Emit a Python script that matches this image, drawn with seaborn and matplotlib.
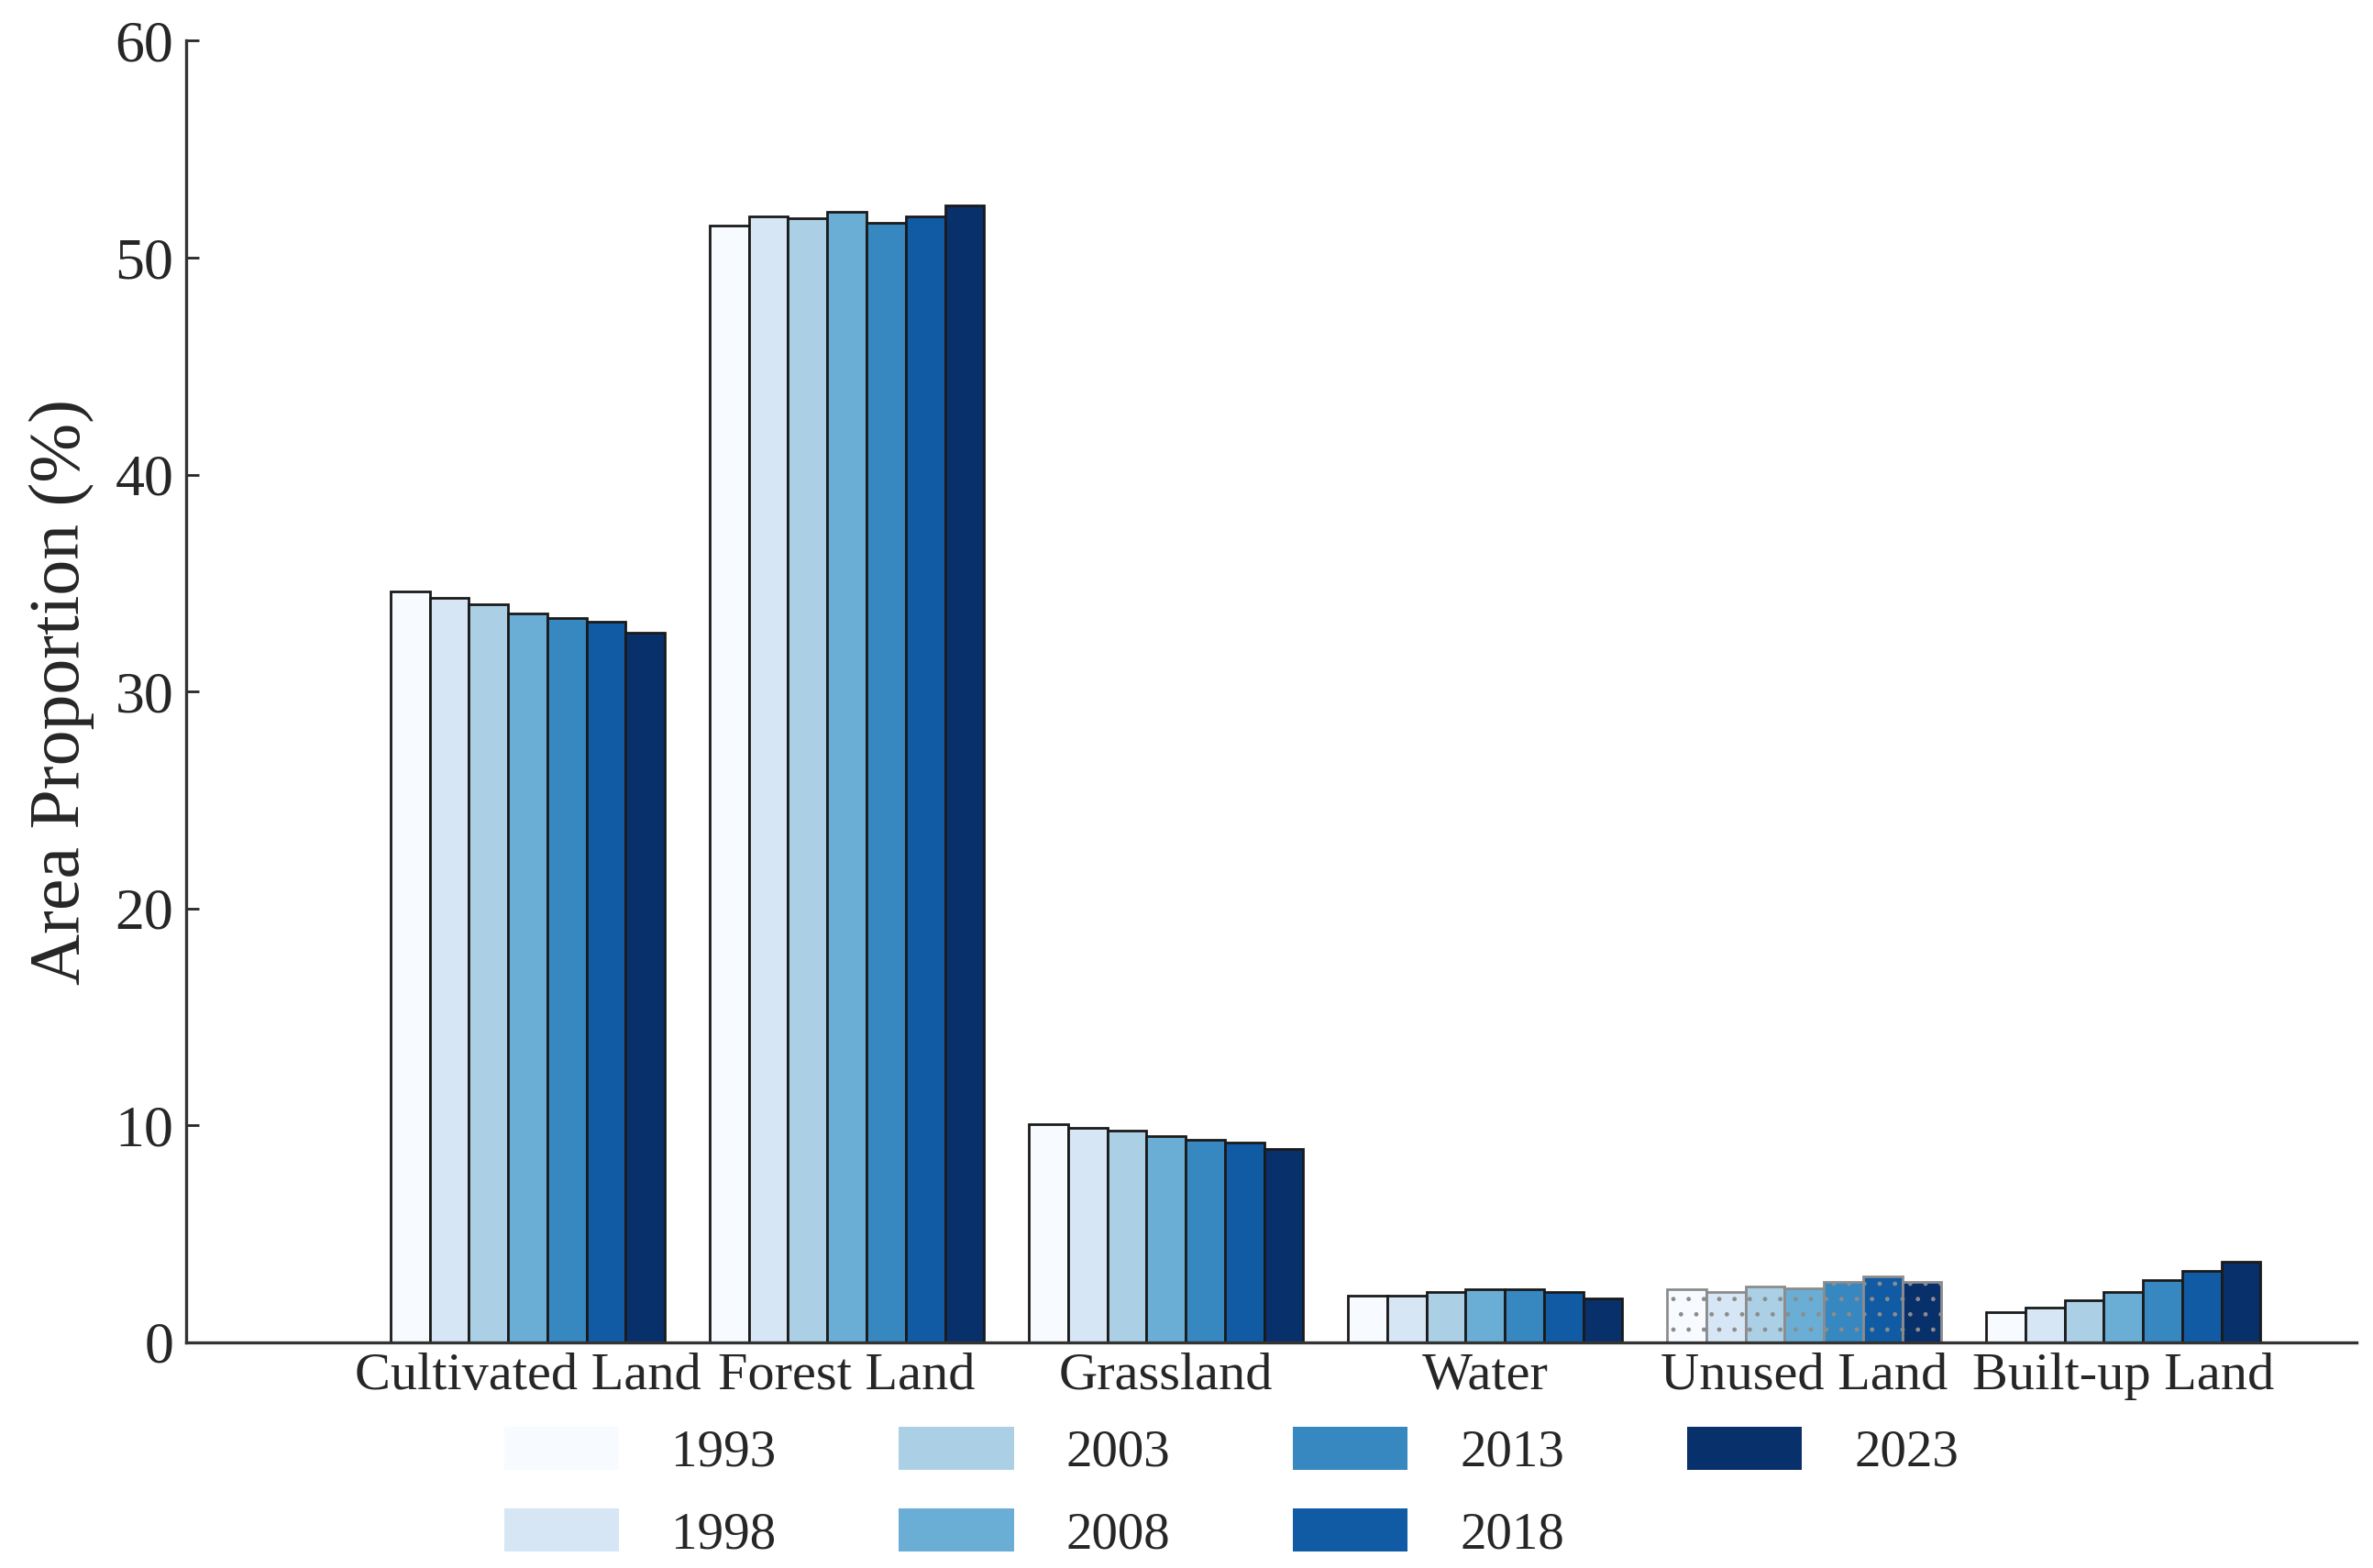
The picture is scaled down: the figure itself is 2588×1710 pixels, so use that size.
import numpy as np
import pandas as pd
import matplotlib
matplotlib.use("Agg")
import matplotlib.pyplot as plt
from matplotlib.patches import Patch
import seaborn as sns

# land use types and area share (%) for each year
types = ["Cultivated Land", "Forest Land", "Grassland", "Water", "Unused Land", "Built-up Land"]
years = ["1993", "1998", "2003", "2008", "2013", "2018", "2023"]
cultivated = [34.6, 34.3, 34.0, 33.6, 33.4, 33.2, 32.7]
forest = [51.5, 51.9, 51.8, 52.1, 51.6, 51.9, 52.4]
grassland = [10.05, 9.9, 9.75, 9.5, 9.35, 9.2, 8.9]
water = [2.15, 2.15, 2.3, 2.45, 2.45, 2.3, 2.0]
unused = [2.45, 2.3, 2.55, 2.5, 2.8, 3.05, 2.8]
builtup = [1.4, 1.6, 1.95, 2.3, 2.85, 3.3, 3.7]

values = [cultivated, forest, grassland, water, unused, builtup]
rows = []
for t, vals in zip(types, values):
    for y, v in zip(years, vals):
        rows.append({"type": t, "year": y, "value": v})
df = pd.DataFrame(rows)

sns.set_style("ticks")
plt.rcParams["font.family"] = ["Liberation Serif", "DejaVu Serif"]

colors = [plt.cm.Blues(x) for x in np.linspace(0, 1, 7)]

fig = plt.figure(figsize=(25.88, 17.10), dpi=100)
ax = fig.add_axes([0.0785, 0.144, 0.9145, 0.83])

sns.barplot(data=df, x="type", y="value", hue="year", palette=colors,
            width=0.86, edgecolor="#1a1a1a", linewidth=2.0, saturation=1,
            legend=False, ax=ax)

# dotted hatch on unused land
ui = types.index("Unused Land")
for cont in ax.containers:
    b = cont.patches[ui]
    b.set_hatch(".")
    b.set_edgecolor("#8c8c8c")

ax.set_xlim(-1.07, 5.73)
ax.set_ylim(0, 60)
ax.set_yticks(range(0, 61, 10))
ax.set_xlabel("")
ax.set_ylabel("Area Proportion (%)", fontsize=56, labelpad=16)
ax.tick_params(axis="y", direction="in", length=10, width=2, labelsize=46, pad=10)
ax.tick_params(axis="x", length=0, labelsize=42, pad=8)
sns.despine(ax=ax)
for s in ["left", "bottom"]:
    ax.spines[s].set_linewidth(2.4)
    ax.spines[s].set_color("#333333")

handles = [Patch(facecolor=c, edgecolor="none") for c in colors]
fig.legend(handles, years, loc="center", bbox_to_anchor=(0.519, 0.048), ncol=4,
           frameon=False, fontsize=41, handlelength=2.2, handleheight=0.9,
           handletextpad=1.0, columnspacing=2.35, labelspacing=0.6)

fig.savefig("out.png", dpi=100)
